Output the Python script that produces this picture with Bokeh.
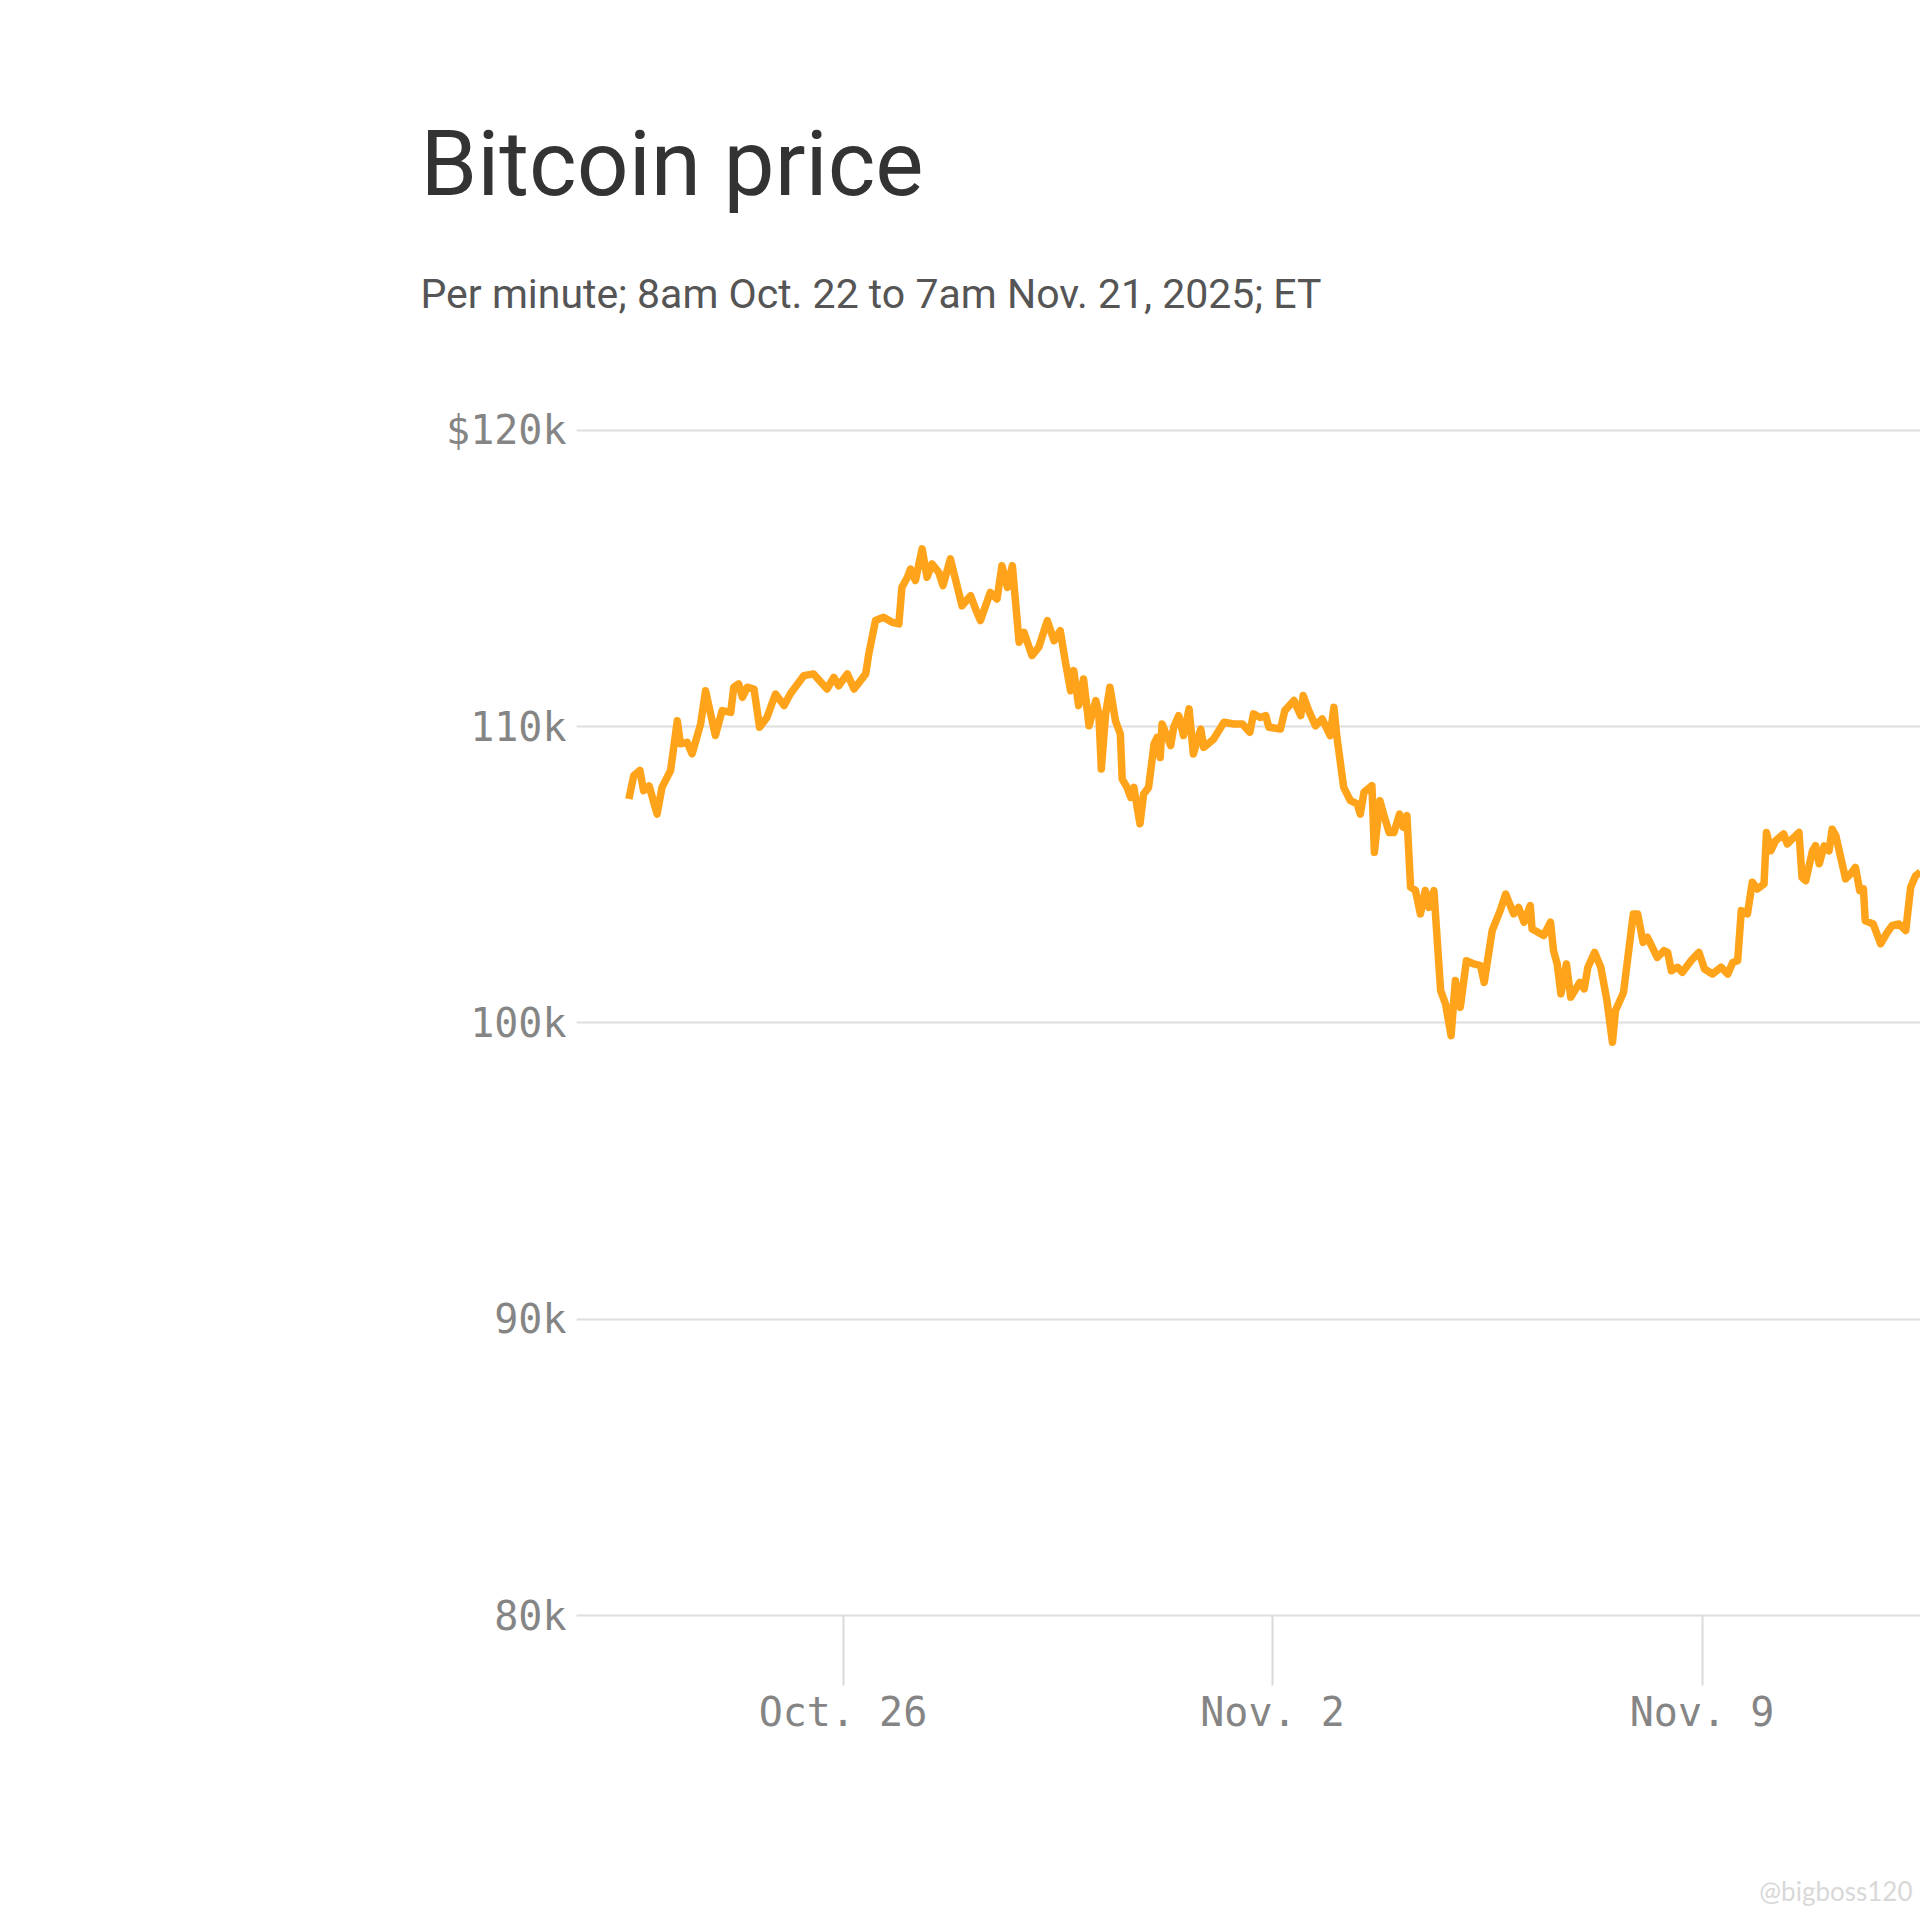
from bokeh.plotting import figure
from bokeh.models import Range1d, FixedTicker, Title, ColumnDataSource
from bokeh.embed import file_html
from bokeh.resources import INLINE

# ---- data: days since Oct. 22, 2025 00:00 UTC, Bitcoin price in $ thousands ----
day_offsets = [
    0.51, 0.59, 0.69, 0.75, 0.84, 0.97, 1.05, 1.19, 1.30, 1.35, 1.46, 1.54, 1.68, 1.76, 1.92,
    2.03, 2.17, 2.22, 2.30, 2.36, 2.44, 2.55, 2.64, 2.76, 2.90, 3.04, 3.14, 3.36, 3.52, 3.74,
    3.85, 3.93, 4.07, 4.18, 4.37, 4.42, 4.53, 4.66, 4.80, 4.91, 4.96, 5.05, 5.10, 5.18, 5.29,
    5.37, 5.45, 5.56, 5.63, 5.75, 5.94, 6.08, 6.16, 6.24, 6.40, 6.51, 6.59, 6.68, 6.76, 6.87,
    6.95, 7.08, 7.19, 7.33, 7.44, 7.54,
    7.63, 7.71, 7.76, 7.84, 7.92, 8.01, 8.12, 8.17, 8.21, 8.28, 8.35, 8.44, 8.52, 8.55, 8.63,
    8.69, 8.74, 8.84, 8.90, 8.98, 9.07, 9.12, 9.17, 9.20, 9.34, 9.39, 9.47, 9.55, 9.64, 9.71,
    9.83, 9.88, 10.04, 10.21, 10.37, 10.51, 10.63, 10.69, 10.80, 10.89, 10.94, 11.13, 11.20,
    11.35, 11.46, 11.50, 11.59, 11.70, 11.81, 11.94, 12.00, 12.05, 12.16, 12.27, 12.38, 12.43,
    12.49, 12.62, 12.66, 12.75, 12.81, 12.90, 12.98, 13.07, 13.13, 13.19, 13.25, 13.33, 13.41,
    13.49, 13.55, 13.63, 13.74, 13.82, 13.91, 13.98, 14.06, 14.16, 14.28, 14.39, 14.45, 14.58,
    14.71,
    14.80, 14.93, 15.01, 15.10, 15.20, 15.23, 15.42, 15.53, 15.58, 15.64, 15.70, 15.79, 15.86,
    16.01, 16.08, 16.14, 16.25, 16.35, 16.45, 16.54, 16.59, 16.72, 16.88, 16.95, 17.04, 17.11,
    17.27, 17.38, 17.44, 17.50, 17.60, 17.68, 17.82, 17.95, 18.04, 18.17, 18.31, 18.42, 18.50,
    18.58, 18.64, 18.74, 18.82, 18.90, 19.01, 19.05, 19.12, 19.20, 19.33, 19.39, 19.47, 19.58,
    19.63, 19.69, 19.80, 19.85, 19.91, 19.99, 20.07, 20.12, 20.18, 20.26, 20.34, 20.42, 20.50,
    20.57, 20.63, 20.66, 20.79, 20.91, 21.02, 21.10, 21.21, 21.32, 21.40, 21.48, 21.56,
]
price_k = [
    107.56, 108.35, 108.52, 107.84, 108.00, 107.05, 107.95, 108.52, 110.20, 109.42, 109.47,
    109.08, 110.09, 111.21, 109.70, 110.54, 110.48, 111.33, 111.44, 110.99, 111.33, 111.27,
    109.98, 110.31, 111.10, 110.71, 111.10, 111.72, 111.78, 111.27, 111.66, 111.38, 111.78,
    111.27, 111.78, 112.45, 113.58, 113.69, 113.52, 113.47, 114.70, 115.04, 115.32, 114.93,
    116.00, 115.04, 115.49, 115.21, 114.76, 115.66, 114.08, 114.42, 113.97, 113.58, 114.53,
    114.31, 115.43, 114.70, 115.43, 112.85, 113.18, 112.40, 112.68, 113.58, 112.90, 113.24,
    112.12, 111.21, 111.89, 110.71, 111.61, 110.03, 110.88, 110.43, 108.57, 110.43, 111.33,
    110.20, 109.75, 108.23, 107.95, 107.61, 107.95, 106.72, 107.73, 107.95, 109.42, 109.64,
    108.96, 110.09, 109.36, 109.98, 110.37, 109.70, 110.60, 109.08, 109.92, 109.30, 109.58,
    110.15, 110.09, 110.09, 109.81, 110.43, 110.31, 110.37, 109.98, 109.92, 110.54, 110.88,
    110.37, 111.05, 110.54, 110.03, 110.26, 109.70, 110.65, 109.64, 107.95, 107.50, 107.39,
    107.05, 107.78, 108.01, 105.76, 107.50, 107.05, 106.43, 106.43, 107.05, 106.60, 107.00,
    104.58, 104.47, 103.68, 104.47, 103.90, 104.47, 101.09, 100.64, 99.57, 101.43, 100.53,
    102.10, 101.99, 101.93, 101.37, 103.12, 103.79,
    104.35, 103.68, 103.90, 103.40, 103.96, 103.17, 102.95, 103.40, 102.44, 101.99, 100.98,
    101.99, 100.87, 101.37, 101.15, 101.88, 102.38, 101.88, 100.76, 99.35, 100.42, 101.03,
    103.68, 103.68, 102.72, 102.89, 102.21, 102.44, 102.38, 101.76, 101.88, 101.71, 102.10,
    102.38, 101.82, 101.65, 101.88, 101.65, 102.04, 102.10, 103.79, 103.68, 104.75, 104.52,
    104.69, 106.43, 105.81, 106.15, 106.38, 106.04, 106.21, 106.43, 104.91, 104.80, 105.81,
    105.98, 105.37, 105.98, 105.81, 106.54, 106.32, 105.59, 104.86, 105.03, 105.25, 104.47,
    104.52, 103.45, 103.34, 102.67, 103.06, 103.29, 103.34, 103.12, 104.58, 104.97, 105.09,
]

y_ticks = [80000, 90000, 100000, 110000, 120000]
y_tick_labels = ["80k", "90k", "100k", "110k", "$120k"]
x_ticks = [4, 11, 18]
x_tick_labels = ["Oct. 26", "Nov. 2", "Nov. 9"]

title_text = "Bitcoin price"
subtitle_text = "Per minute; 8am Oct. 22 to 7am Nov. 21, 2025; ET"
watermark_text = "@bigboss120"

# ---- layout constants ----
FIG_W, FIG_H = 1920, 1920
BORDER_L, BORDER_R, BORDER_T, BORDER_B = 576, 0, 418, 305
FRAME_W = FIG_W - BORDER_L - BORDER_R
FRAME_H = FIG_H - BORDER_T - BORDER_B
PX_PER_DAY = 61.36
X0 = 4 - (842.5 - BORDER_L) / PX_PER_DAY
X1 = X0 + FRAME_W / PX_PER_DAY
Y0, Y1 = 80000, 120400

src = ColumnDataSource(data=dict(x=day_offsets, y=[v * 1000 for v in price_k]))

p = figure(
    width=FIG_W, height=FIG_H, output_backend="svg", toolbar_location=None,
    x_range=Range1d(X0, X1), y_range=Range1d(Y0, Y1),
    min_border_left=BORDER_L, min_border_right=BORDER_R,
    min_border_top=BORDER_T, min_border_bottom=BORDER_B,
    title=None,
)
p.outline_line_color = None
p.background_fill_color = "white"
p.border_fill_color = "white"

p.xgrid.visible = False
p.ygrid.ticker = FixedTicker(ticks=y_ticks)
p.ygrid.grid_line_color = "#dedede"
p.ygrid.grid_line_width = 2

LABEL_FONT = "DejaVu Sans Mono"
LABEL_COLOR = "#858585"

xa = p.xaxis[0]
xa.ticker = FixedTicker(ticks=x_ticks)
xa.major_label_overrides = {t: l for t, l in zip(x_ticks, x_tick_labels)}
xa.axis_line_color = "#dedede"
xa.axis_line_width = 2
xa.major_tick_in = 0
xa.major_tick_out = 70
xa.major_tick_line_color = "#dadada"
xa.major_tick_line_width = 2
xa.minor_tick_line_color = None
xa.major_label_standoff = 3
xa.major_label_text_font = LABEL_FONT
xa.major_label_text_font_size = "40px"
xa.major_label_text_color = LABEL_COLOR

ya = p.yaxis[0]
ya.ticker = FixedTicker(ticks=y_ticks)
ya.major_label_overrides = {t: l for t, l in zip(y_ticks, y_tick_labels)}
ya.axis_line_color = None
ya.major_tick_line_color = None
ya.minor_tick_line_color = None
ya.major_tick_in = 0
ya.major_tick_out = 0
ya.major_label_standoff = 10
ya.major_label_text_font = LABEL_FONT
ya.major_label_text_font_size = "40px"
ya.major_label_text_color = LABEL_COLOR

p.line("x", "y", source=src, line_color="#FFA31A", line_width=7.5, line_join="round")

# subtitle is added first so it sits next to the plot area; a trailing empty line
# keeps it at the top of its (taller) panel; the title goes above it
p.add_layout(Title(text=subtitle_text + "\n", align="left", offset=420 - BORDER_L,
                   text_font="Roboto", text_font_size="41px", text_font_style="normal",
                   text_line_height=1.2, text_color="#555555", standoff=86), "above")
p.add_layout(Title(text=title_text, align="left", offset=420 - BORDER_L,
                   text_font="Roboto", text_font_size="91px", text_font_style="normal",
                   text_color="#333333", standoff=16), "above")
# watermark: leading empty lines push it to the bottom of the page
p.add_layout(Title(text="\n\n\n\n" + watermark_text, align="right", offset=8,
                   text_font="Lato", text_font_size="26px", text_font_style="normal",
                   text_line_height=1.0, text_color="#d8d8d8", standoff=14), "below")

open("out.html", "w").write(file_html(p, INLINE))
